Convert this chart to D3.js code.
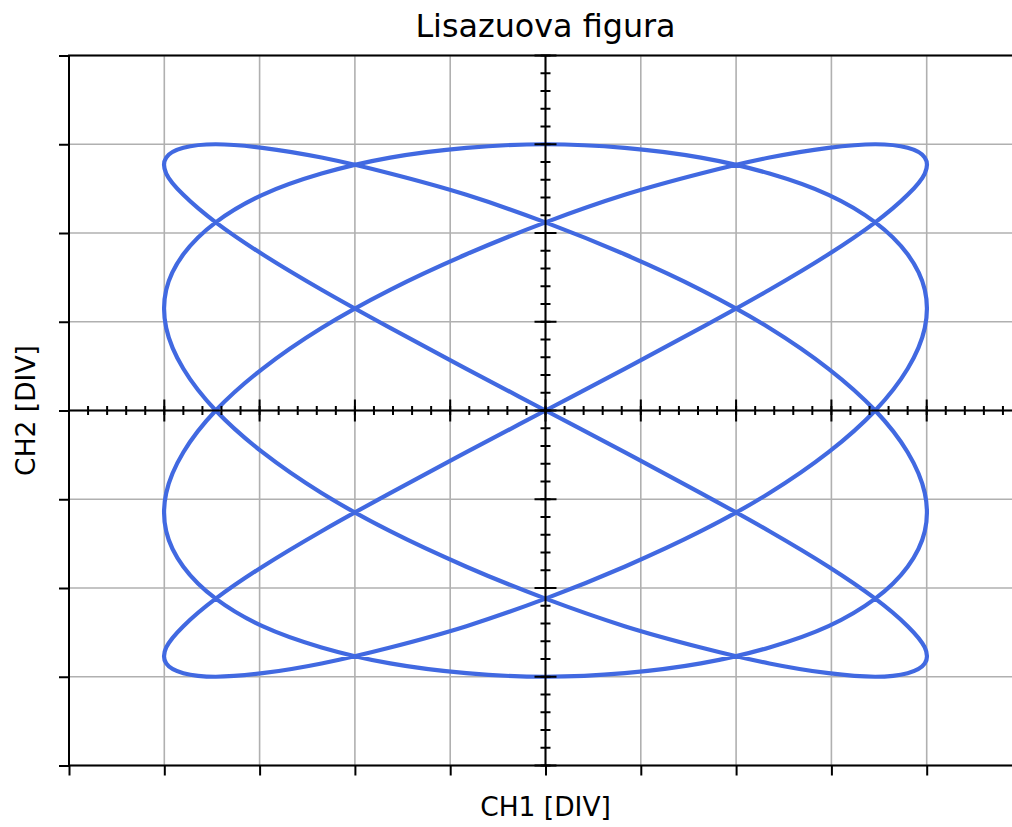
<!DOCTYPE html>
<html><head><meta charset="utf-8">
<script src="https://cdn.jsdelivr.net/npm/d3@7"></script>
<style>
body{margin:0;background:#fff}
svg{display:block}
text{font-family:"DejaVu Sans",sans-serif;fill:#000}
</style>
</head><body>
<svg id="c" width="1012" height="827"></svg>
<script>
// CH1 (horizontal) samples, in divisions
const chX = [
 3.46,3.80,3.98,3.98,3.80,3.46,2.97,2.35,1.63,0.83,0,-0.83,-1.63,-2.35,-2.97,-3.46,-3.80,-3.98,-3.98,-3.80,-3.46,-2.97,-2.35,-1.63,-0.83,0,0.83,1.63,2.35,2.97,
 3.46,3.80,3.98,3.98,3.80,3.46,2.97,2.35,1.63,0.83,0,-0.83,-1.63,-2.35,-2.97,-3.46,-3.80,-3.98,-3.98,-3.80,-3.46,-2.97,-2.35,-1.63,-0.83,0,0.83,1.63,2.35,2.97,
 3.46,3.80,3.98,3.98,3.80,3.46,2.97,2.35,1.63,0.83,0,-0.83,-1.63,-2.35,-2.97,-3.46,-3.80,-3.98,-3.98,-3.80,-3.46,-2.97,-2.35,-1.63,-0.83,0,0.83,1.63,2.35,2.97,
 3.46,3.80,3.98,3.98,3.80,3.46,2.97,2.35,1.63,0.83,0,-0.83,-1.63,-2.35,-2.97,-3.46,-3.80,-3.98,-3.98,-3.80,-3.46,-2.97,-2.35,-1.63,-0.83,0,0.83,1.63,2.35,2.97
];
// CH2 (vertical) samples at the same trace points, in divisions
const chY = [
 0,0.47,0.93,1.36,1.76,2.12,2.43,2.67,2.85,2.96,3.00,2.96,2.85,2.67,2.43,2.12,1.76,1.36,0.93,0.47,0,-0.47,-0.93,-1.36,-1.76,-2.12,-2.43,-2.67,-2.85,-2.96,-3.00,-2.96,-2.85,-2.67,-2.43,-2.12,-1.76,-1.36,-0.93,-0.47,
 0,0.47,0.93,1.36,1.76,2.12,2.43,2.67,2.85,2.96,3.00,2.96,2.85,2.67,2.43,2.12,1.76,1.36,0.93,0.47,0,-0.47,-0.93,-1.36,-1.76,-2.12,-2.43,-2.67,-2.85,-2.96,-3.00,-2.96,-2.85,-2.67,-2.43,-2.12,-1.76,-1.36,-0.93,-0.47,
 0,0.47,0.93,1.36,1.76,2.12,2.43,2.67,2.85,2.96,3.00,2.96,2.85,2.67,2.43,2.12,1.76,1.36,0.93,0.47,0,-0.47,-0.93,-1.36,-1.76,-2.12,-2.43,-2.67,-2.85,-2.96,-3.00,-2.96,-2.85,-2.67,-2.43,-2.12,-1.76,-1.36,-0.93,-0.47
];
const xDivs = [-5,-4,-3,-2,-1,0,1,2,3,4,5];
const yDivs = [-4,-3,-2,-1,0,1,2,3,4];
const titleText = "Lisazuova figura";
const xLabelText = "CH1 [DIV]";
const yLabelText = "CH2 [DIV]";

const svg = d3.select("#c");
const x = d3.scaleLinear().domain([-5,5]).range([69,1022]);
const y = d3.scaleLinear().domain([-4,4]).range([765.5,55.5]);
const GRID = "#b0b0b0";

// grid
const grid = svg.append("g");
grid.selectAll("line.gx").data(xDivs).join("line").attr("class","gx")
  .attr("x1",d=>x(d)).attr("x2",d=>x(d)).attr("y1",y(-4)).attr("y2",y(4))
  .attr("stroke",GRID).attr("stroke-width",1.6);
grid.selectAll("line.gy").data(yDivs).join("line").attr("class","gy")
  .attr("y1",d=>y(d)).attr("y2",d=>y(d)).attr("x1",x(-5)).attr("x2",x(5))
  .attr("stroke",GRID).attr("stroke-width",1.6);

// trace
const pts = chX.map((v,i)=>[v, chY[i]]);
const line = d3.line().x(d=>x(d[0])).y(d=>y(d[1])).curve(d3.curveCatmullRomClosed.alpha(0));
svg.append("path").attr("d", line(pts)).attr("fill","none")
  .attr("stroke","#4169e1").attr("stroke-width",4.2).attr("stroke-linejoin","round");

// center axes with major and minor ticks
const ctr = svg.append("g").attr("stroke","#000").attr("stroke-width",2);
ctr.append("line").attr("x1",x(-5)).attr("x2",x(5)).attr("y1",y(0)).attr("y2",y(0));
ctr.append("line").attr("y1",y(-4)).attr("y2",y(4)).attr("x1",x(0)).attr("x2",x(0));
const minorX = x.ticks(50), minorY = y.ticks(40);
ctr.selectAll("line.mx").data(minorX).join("line").attr("class","mx")
  .attr("x1",d=>x(d)).attr("x2",d=>x(d)).attr("y1",y(0)-4.5).attr("y2",y(0)+4.5);
ctr.selectAll("line.my").data(minorY).join("line").attr("class","my")
  .attr("y1",d=>y(d)).attr("y2",d=>y(d)).attr("x1",x(0)-5).attr("x2",x(0)+5);
ctr.selectAll("line.Mx").data(xDivs).join("line").attr("class","Mx")
  .attr("x1",d=>x(d)).attr("x2",d=>x(d)).attr("y1",y(0)-11).attr("y2",y(0)+11);
ctr.selectAll("line.My").data(yDivs).join("line").attr("class","My")
  .attr("y1",d=>y(d)).attr("y2",d=>y(d)).attr("x1",x(0)-11).attr("x2",x(0)+11);

// outer axes (ticks outward, no labels)
const ax = svg.append("g").attr("transform",`translate(${x(-5)},0)`)
  .call(d3.axisLeft(y).tickValues(yDivs).tickSize(10).tickFormat(""));
ax.select(".domain").remove();
ax.selectAll(".tick line").attr("stroke","#000").attr("stroke-width",2);
const bx = svg.append("g").attr("transform",`translate(0,${y(-4)})`)
  .call(d3.axisBottom(x).tickValues(xDivs).tickSize(10).tickFormat(""));
bx.select(".domain").remove();
bx.selectAll(".tick line").attr("stroke","#000").attr("stroke-width",2);

// spines
const sp = svg.append("g").attr("stroke","#000").attr("stroke-width",2).attr("fill","none");
sp.append("rect").attr("x",x(-5)).attr("y",y(4)).attr("width",x(5)-x(-5)).attr("height",y(-4)-y(4));

// texts
svg.append("text").attr("x",(x(-5)+x(5))/2).attr("y",37).attr("text-anchor","middle")
  .attr("font-size",31.8).text(titleText);
svg.append("text").attr("x",(x(-5)+x(5))/2).attr("y",816).attr("text-anchor","middle")
  .attr("font-size",26.5).text(xLabelText);
svg.append("text").attr("transform",`translate(34.5,${(y(-4)+y(4))/2}) rotate(-90)`)
  .attr("text-anchor","middle").attr("font-size",26.5).text(yLabelText);
</script>
</body></html>
